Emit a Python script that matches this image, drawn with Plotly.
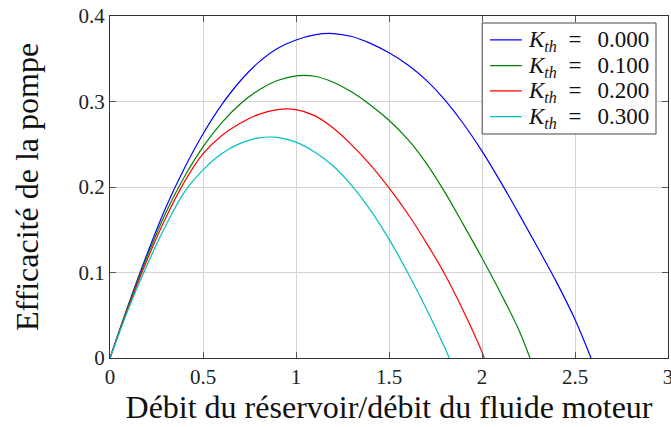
import plotly.graph_objects as go

# Débit réduit (x) et efficacité (y) pour chaque coefficient de perte K_th
x_k000 = [0, 0.1, 0.2, 0.3, 0.4, 0.5, 0.6, 0.7, 0.8, 0.9, 1.0, 1.1, 1.2, 1.3,
          1.4, 1.5, 1.6, 1.7, 1.8, 1.9, 2.0, 2.1, 2.2, 2.3, 2.4, 2.5, 2.586]
y_k000 = [0, 0.063, 0.122, 0.176, 0.222, 0.262, 0.296, 0.324, 0.346, 0.362,
          0.372, 0.378, 0.3795, 0.376, 0.368, 0.357, 0.343, 0.325, 0.302,
          0.274, 0.242, 0.206, 0.168, 0.129, 0.089, 0.045, 0.0]

x_k100 = [0, 0.1, 0.2, 0.3, 0.4, 0.5, 0.6, 0.7, 0.8, 0.9, 1.0, 1.1, 1.2, 1.3,
          1.4, 1.5, 1.6, 1.7, 1.8, 1.9, 2.0, 2.1, 2.2, 2.258]
y_k100 = [0, 0.062, 0.119, 0.170, 0.212, 0.247, 0.275, 0.297, 0.3135, 0.3245,
          0.330, 0.3295, 0.3225, 0.311, 0.296, 0.278, 0.256, 0.228, 0.194,
          0.156, 0.117, 0.076, 0.032, 0.0]

x_k200 = [0, 0.1, 0.2, 0.3, 0.4, 0.5, 0.6, 0.7, 0.8, 0.9, 1.0, 1.1, 1.2, 1.3,
          1.4, 1.5, 1.6, 1.7, 1.8, 1.9, 2.0, 2.012]
y_k200 = [0, 0.060, 0.115, 0.164, 0.206, 0.239, 0.260, 0.2745, 0.2850, 0.2905,
          0.2905, 0.2835, 0.269, 0.249, 0.226, 0.199, 0.169, 0.135, 0.098,
          0.055, 0.007, 0.0]

x_k300 = [0, 0.1, 0.2, 0.3, 0.4, 0.5, 0.6, 0.7, 0.8, 0.9, 1.0, 1.1, 1.2, 1.3,
          1.4, 1.5, 1.6, 1.7, 1.8, 1.824]
y_k300 = [0, 0.058, 0.109, 0.155, 0.194, 0.220, 0.239, 0.251, 0.2575, 0.258,
          0.2525, 0.241, 0.2245, 0.2015, 0.173, 0.139, 0.100, 0.058, 0.012, 0.0]

k_labels = ["0.000", "0.100", "0.200", "0.300"]
series = [(x_k000, y_k000), (x_k100, y_k100), (x_k200, y_k200), (x_k300, y_k300)]
colors = ["#0000ff", "#008000", "#ff0000", "#00bfbf"]

x_ticks = [0, 0.5, 1, 1.5, 2, 2.5, 3]
y_ticks = [0, 0.1, 0.2, 0.3, 0.4]

SERIF = "Liberation Serif"
GAP_L = "\u2002"          # espace avant le signe égal
GAP_R = "\u2002\u2009"    # espace après le signe égal

fig = go.Figure()
for (xs, ys), k, c in zip(series, k_labels, colors):
    fig.add_trace(go.Scatter(
        x=xs, y=ys, mode="lines",
        line=dict(color=c, width=1.2, shape="spline", smoothing=1.0),
        name=f"K_th = {k}", showlegend=False,
    ))

# Légende compacte dessinée dans le repère du papier (coin supérieur droit)
box_x0, box_x1, box_y0, box_y1 = 0.667, 0.9785, 0.655, 0.9795
row_y = [0.930, 0.855, 0.781, 0.706]
line_x0, line_x1, text_x = 0.681, 0.738, 0.746
shapes = [dict(type="rect", xref="paper", yref="paper",
               x0=box_x0, x1=box_x1, y0=box_y0, y1=box_y1,
               line=dict(color="#444444", width=1), fillcolor="white", layer="above")]
annotations = []
for ry, k, c in zip(row_y, k_labels, colors):
    shapes.append(dict(type="line", xref="paper", yref="paper",
                       x0=line_x0, x1=line_x1, y0=ry, y1=ry,
                       line=dict(color=c, width=1.2), layer="above"))
    annotations.append(dict(
        xref="paper", yref="paper", x=text_x, y=ry - 0.004,
        xanchor="left", yanchor="middle", showarrow=False,
        text=f"<i>K</i><sub><i>th</i></sub>{GAP_L}={GAP_R}{k}",
        font=dict(family=SERIF, size=23, color="#111111"),
    ))

axis_common = dict(
    showgrid=True, gridcolor="#d4d4d4", gridwidth=1,
    showline=True, linecolor="#333333", linewidth=1, mirror="allticks",
    ticks="inside", ticklen=6, tickcolor="#555555", tickwidth=1,
    zeroline=False, ticklabeloverflow="allow", automargin=False,
    tickfont=dict(family=SERIF, size=21, color="#222222"),
)

fig.update_layout(
    width=671, height=427,
    margin=dict(l=110, r=3, t=16, b=69),
    paper_bgcolor="white", plot_bgcolor="white",
    showlegend=False,
    shapes=shapes, annotations=annotations,
    xaxis=dict(
        range=[0, 3], tickvals=x_ticks, ticktext=[str(v) for v in x_ticks],
        title=dict(text="Débit du réservoir/débit du fluide moteur",
                   font=dict(family=SERIF, size=32, color="#111111"), standoff=6),
        **axis_common,
    ),
    yaxis=dict(
        range=[0, 0.4], tickvals=y_ticks, ticktext=[str(v) for v in y_ticks],
        title=dict(text="Efficacité de la pompe",
                   font=dict(family=SERIF, size=32, color="#111111"), standoff=30),
        **axis_common,
    ),
)

fig.write_html("out.html")
